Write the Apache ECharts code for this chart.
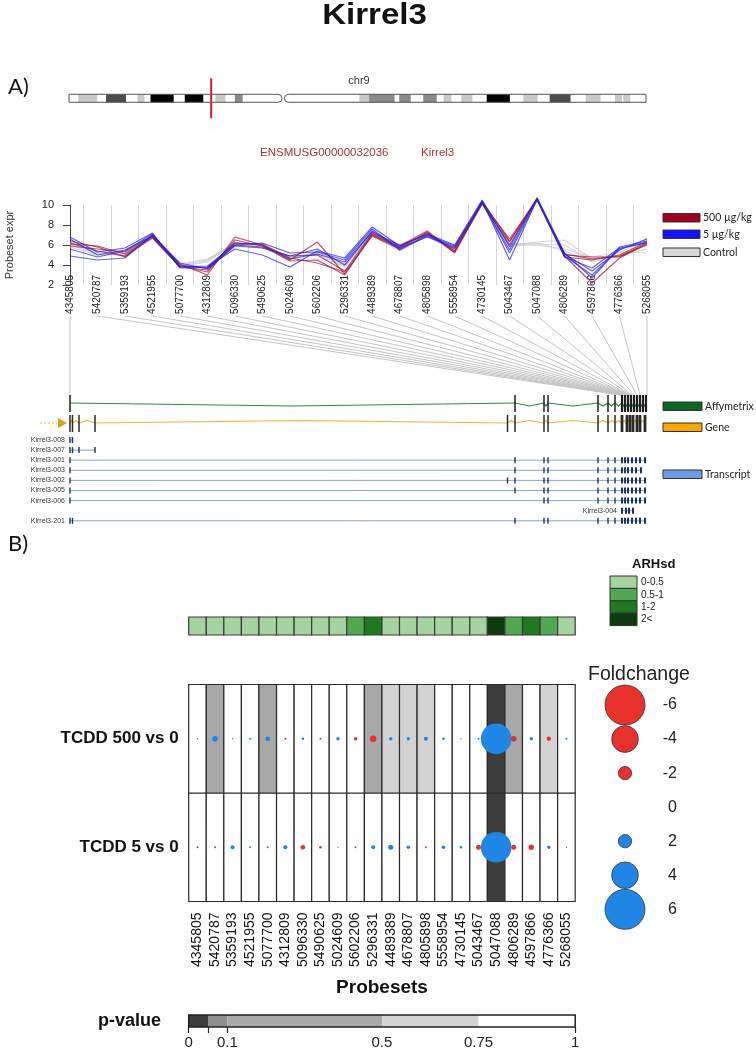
<!DOCTYPE html>
<html><head><meta charset="utf-8">
<script src="https://cdn.jsdelivr.net/npm/echarts@6/dist/echarts.min.js"></script>
<style>html,body{margin:0;padding:0;background:#fff}#c{width:756px;height:1049px}</style>
</head><body><div id="c"></div>
<script>
// ================= DATA =================
const probesets = ['4345805','5420787','5359193','4521955','5077700','4312809','5096330','5490625','5024609','5602206','5296331','4489389','4678807','4805898','5558954','4730145','5043467','5047088','4806289','4597866','4776366','5268055'];

// chromosome 9 ideogram (Mb)
const chrLengthMb = 124.6;
const chrCentromereMb = [46.0, 46.5];
const chrBandStartMb = [2.0, 8.0, 14.8, 17.6, 25.0, 31.6, 35.8, 62.7, 64.8, 71.3, 76.5, 80.9, 84.7, 90.2, 98.1, 103.8, 111.6, 117.9, 119.7];
const chrBandEndMb   = [6.1, 12.3, 16.3, 22.6, 29.0, 33.8, 37.5, 64.8, 70.3, 73.8, 79.4, 82.6, 87.1, 95.2, 101.2, 108.3, 114.8, 119.4, 121.2];
const chrBandStain   = [25, 75, 25, 100, 100, 25, 50, 25, 50, 50, 50, 25, 25, 100, 25, 75, 25, 25, 25];
const geneLocusMb = 30.7;

// probeset expression (log2)
const expr500A = [6.4, 5.8, 4.8, 7.0, 4.1, 3.0, 6.8, 6.0, 4.5, 6.3, 3.1, 7.0, 5.7, 7.3, 5.2, 10.2, 6.6, 10.6, 4.9, 2.2, 4.7, 6.1];
const expr500B = [6.1, 5.9, 5.1, 6.8, 3.9, 3.3, 6.5, 5.9, 4.4, 4.5, 3.0, 7.1, 5.8, 7.2, 5.4, 10.1, 6.3, 10.7, 5.0, 4.8, 4.8, 6.2];
const expr500C = [5.9, 5.6, 5.3, 6.9, 4.0, 3.7, 6.2, 6.1, 4.7, 4.2, 3.3, 6.9, 5.6, 7.0, 5.6, 10.3, 6.0, 10.6, 5.1, 4.6, 4.9, 6.0];
const expr500D = [6.2, 5.4, 4.9, 6.7, 3.8, 3.5, 6.0, 5.8, 4.9, 5.0, 3.4, 7.2, 5.9, 7.4, 5.3, 10.4, 6.4, 10.5, 4.8, 4.5, 5.0, 6.3];
const expr5A   = [6.8, 5.3, 5.7, 7.2, 3.7, 3.8, 5.6, 5.0, 3.8, 5.4, 4.7, 7.8, 5.9, 7.1, 6.0, 10.5, 5.8, 10.7, 5.2, 2.7, 5.8, 6.4];
const expr5B   = [4.9, 4.5, 4.7, 7.0, 3.8, 3.9, 6.0, 6.2, 5.2, 5.3, 4.5, 7.6, 5.5, 6.9, 5.8, 10.4, 4.5, 10.6, 4.9, 3.0, 5.6, 6.3];
const expr5C   = [6.6, 5.0, 5.5, 6.9, 4.2, 3.6, 5.9, 5.7, 4.9, 5.6, 4.0, 7.4, 5.7, 6.8, 5.7, 10.3, 5.2, 10.5, 5.1, 3.4, 5.5, 6.6];
const expr5D   = [5.6, 4.8, 5.4, 7.1, 3.9, 3.7, 6.2, 6.0, 4.6, 5.1, 4.3, 7.3, 6.0, 7.0, 5.9, 10.2, 5.5, 10.6, 4.8, 3.7, 5.7, 6.2];
const exprCtlA = [6.0, 5.1, 5.0, 6.8, 4.0, 4.5, 6.2, 5.9, 4.8, 5.2, 4.0, 7.1, 5.6, 7.0, 5.5, 10.1, 6.0, 6.3, 6.5, 4.6, 5.2, 6.7];
const exprCtlB = [6.3, 5.3, 5.2, 6.9, 3.9, 4.4, 6.0, 5.8, 4.9, 5.0, 3.8, 7.0, 5.7, 7.1, 5.4, 10.2, 6.0, 6.1, 6.0, 4.4, 5.0, 6.5];
const exprCtlC = [5.8, 5.0, 5.1, 6.7, 4.1, 4.6, 6.1, 6.0, 4.7, 5.1, 3.9, 7.2, 5.5, 6.9, 5.3, 10.0, 5.9, 6.0, 5.6, 4.8, 5.3, 5.2];
const exprCtlD = [6.1, 5.2, 4.9, 6.8, 3.8, 4.3, 6.3, 5.7, 4.6, 5.3, 4.1, 6.9, 5.4, 7.2, 5.6, 10.2, 6.1, 6.2, 5.4, 4.3, 4.9, 5.6];
const exprTicks = [2, 4, 6, 8, 10];

// gene model (kb from gene start)
const geneAxisMaxKb = 577;
const probesetGenomicKb = [0, 550, 551, 552, 553, 554, 555, 556, 556.5, 557, 557.5, 558, 558.5, 559, 559.5, 560, 561, 562, 564, 567, 570, 577];
const affyExonKb = [0, 445, 474, 478, 528, 538, 545, 552, 555, 558, 561, 564, 567, 570, 573, 576];
const geneExonKb = [0, 2.5, 9, 25, 437.5, 445, 474, 478, 528, 538, 545, 552, 557, 560, 563, 567, 570, 575];
const transcriptNames = ['Kirrel3-008','Kirrel3-007','Kirrel3-001','Kirrel3-003','Kirrel3-002','Kirrel3-005','Kirrel3-006','Kirrel3-004','Kirrel3-201'];
const tx008 = [0, 2.5];
const tx007 = [0, 2.5, 9, 25];
const tx001 = [0, 445, 474, 478, 528, 538, 545, 552, 555, 558, 562, 566, 570, 575];
const tx003 = [0, 445, 474, 478, 528, 538, 545, 552, 555, 558, 562, 566, 571];
const tx002 = [0, 437.5, 445, 474, 478, 528, 538, 545, 552, 555, 558, 562, 566, 570, 575];
const tx005 = [0, 445, 474, 478, 528, 538, 545, 552, 555, 558, 562, 566, 570, 575];
const tx006 = [0, 474, 478, 528, 538, 545, 552, 555, 558, 562, 566, 570, 575];
const tx004 = [552, 556, 559, 563];
const tx201 = [0, 2.5, 445, 474, 478, 528, 538, 545, 552, 555, 558, 562, 566, 570, 575];
const transcriptExonsKb = [tx008, tx007, tx001, tx003, tx002, tx005, tx006, tx004, tx201];

// ARHsd per probeset
const arhsd = [0.21, 0.28, 0.19, 0.33, 0.25, 0.31, 0.22, 0.27, 0.36, 0.74, 1.42, 0.30, 0.26, 0.34, 0.29, 0.24, 0.38, 2.65, 0.81, 1.28, 0.69, 0.32];
const arhsdBreaks = [0, 0.5, 1, 2];
const arhsdLabels = ['0-0.5', '0.5-1', '1-2', '2<'];
const arhsdColors = ['#a6d4a0', '#50a850', '#1f7a1f', '#0e3b0e'];

// comparisons (index 0 = bottom row)
const comparisonRows = ['TCDD 5 vs 0', 'TCDD 500 vs 0'];
const foldChange5   = [-0.3, -0.3, 0.6, 0.3, 0.3, 0.6, -0.7, -0.4, 0.2, 0.3, 0.6, 0.75, 0.55, -0.3, 0.55, 0.4, -0.75, 4.6, -0.75, -0.8, 0.5, 0.2];
const foldChange500 = [0.25, 0.85, 0.2, 0.3, 0.7, -0.3, 0.4, -0.3, 0.5, -0.55, -0.95, 0.5, 0.5, 0.6, 0.4, 0.2, 0.3, 4.6, -0.85, 0.5, -0.65, 0.3];
const pValue5   = [0.93, 0.88, 0.81, 0.90, 0.94, 0.85, 0.78, 0.92, 0.96, 0.89, 0.83, 0.77, 0.86, 0.91, 0.84, 0.97, 0.79, 0.015, 0.80, 0.82, 0.87, 0.95];
const pValue500 = [0.91, 0.27, 0.86, 0.82, 0.31, 0.88, 0.79, 0.93, 0.84, 0.81, 0.22, 0.61, 0.66, 0.58, 0.87, 0.95, 0.83, 0.012, 0.34, 0.89, 0.63, 0.92];
const foldLegendValues = [-6, -4, -2, 0, 2, 4, 6];
const pValueBreaks = [0, 0.05, 0.1, 0.5, 0.75, 1];
const pValueColors = ['#3d3d3d', '#8e8e8e', '#a8a8a8', '#d3d3d3', '#ffffff'];
const pTickValues = [0, 0.05, 0.1, 1];
const pLabelValues = [0, 0.1, 0.5, 0.75, 1];

// ================= STYLE / HELPERS =================
const FONT = '"Liberation Sans", Arial, Helvetica, sans-serif';
const CAL = 'Lato, "Open Sans", sans-serif';
const RED = '#e8302c', BLUE = '#1f86e6';
const FC_PX = 6.67;
const stainColor = s => ({25:'#c9c9c9', 50:'#8a8a8a', 75:'#4d4d4d', 100:'#000000'})[s] || '#fff';
function binColor(v, breaks, colors){ let k = 0; for (let i = 0; i < breaks.length; i++) if (v >= breaks[i]) k = i; return colors[Math.min(k, colors.length-1)]; }
const pairs = arr => { const o = []; for (let i = 0; i < arr.length - 1; i++) o.push([arr[i], arr[i+1]]); return o; };

const chart = echarts.init(document.getElementById('c'), null, {renderer:'canvas', width:756, height:1049});

const grids = [
  {left:69, width:577, top:94.3, height:8},        // 0 chromosome
  {left:70, width:577, top:205, height:80},        // 1 expression
  {left:70, width:577, top:380, height:150},       // 2 gene tracks
  {left:188.7, width:386.5, top:617, height:18},   // 3 ARHsd strip
  {left:188.7, width:386.5, top:684.5, height:217},// 4 bubble panel
  {left:600, width:82, top:705, height:204.3},     // 5 foldchange legend
  {left:188.7, width:386.5, top:1015, height:12}   // 6 p-value legend
].map(g => Object.assign({containLabel:false, outerBoundsMode:'none'}, g));

const tickStyle = {color:'#222', width:1.2};
const xAxes = [
  {gridIndex:0, type:'value', min:0, max:chrLengthMb, show:false},
  {gridIndex:1, type:'value', min:0, max:probesets.length-1, interval:1,
    axisLine:{show:false}, axisTick:{show:false}, splitLine:{show:false},
    minorTick:{show:false, splitNumber:2}, minorSplitLine:{show:true, lineStyle:{color:'#d6d6d6', width:1}},
    axisLabel:{rotate:90, margin:-10, fontSize:10, color:'#222', fontFamily:FONT, formatter: v => probesets[Math.round(v)] || ''}},
  {gridIndex:2, type:'value', min:0, max:geneAxisMaxKb, show:false},
  {gridIndex:3, type:'category', data:probesets, show:false},
  {gridIndex:4, type:'category', data:probesets, position:'bottom', axisLine:{show:false},
    axisTick:{alignWithLabel:true, length:6.5, lineStyle:tickStyle}, splitLine:{show:false},
    axisLabel:{rotate:90, interval:0, fontSize:14, color:'#111', margin:11, fontFamily:FONT}},
  {gridIndex:4, type:'category', data:probesets, position:'top', axisLine:{show:false},
    axisTick:{alignWithLabel:true, length:6, lineStyle:tickStyle}, splitLine:{show:false}, axisLabel:{show:false}},
  {gridIndex:5, type:'value', min:0, max:1, show:false},
  {gridIndex:6, type:'value', min:0, max:1, axisLine:{show:false}, splitLine:{show:false},
    axisTick:{show:true, customValues:pTickValues, length:6, lineStyle:tickStyle},
    axisLabel:{customValues:pLabelValues, fontSize:15, color:'#222', margin:8, fontFamily:FONT}}
];
const yAxes = [
  {gridIndex:0, type:'value', min:0, max:1, show:false},
  {gridIndex:1, type:'value', min:exprTicks[0], max:exprTicks[exprTicks.length-1], interval:exprTicks[1]-exprTicks[0],
    axisLine:{show:true, lineStyle:{color:'#444', width:1}}, axisTick:{show:true, length:7, lineStyle:{color:'#444'}},
    axisLabel:{fontSize:11, color:'#222', margin:16, fontFamily:FONT}, splitLine:{show:false},
    name:'Probeset expr', nameLocation:'middle', nameRotate:90, nameGap:55, nameTextStyle:{fontSize:11, color:'#333', fontFamily:FONT}},
  {gridIndex:2, type:'value', min:0, max:150, inverse:true, show:false},
  {gridIndex:3, type:'value', min:0, max:1, show:false},
  {gridIndex:4, type:'category', data:comparisonRows, position:'left', axisLine:{show:false},
    axisTick:{alignWithLabel:true, length:6, lineStyle:tickStyle}, splitLine:{show:false},
    axisLabel:{fontSize:17, fontWeight:'bold', color:'#111', margin:10, fontFamily:FONT}},
  {gridIndex:4, type:'category', data:comparisonRows, position:'right', axisLine:{show:false},
    axisTick:{alignWithLabel:true, length:6, lineStyle:tickStyle}, splitLine:{show:false}, axisLabel:{show:false}},
  {gridIndex:5, type:'value', min:-6, max:6, interval:2, inverse:true, position:'right',
    axisLine:{show:false}, axisTick:{show:false}, splitLine:{show:false},
    axisLabel:{inside:true, fontSize:16, color:'#222', margin:5, fontFamily:FONT}},
  {gridIndex:6, type:'value', min:0, max:1, show:false}
];

const series = [];
// ---- chromosome ----
const chrArms = [[0, chrCentromereMb[0]], [chrCentromereMb[1], chrLengthMb]];
function armRender(fill, stroke){
  return (params, api) => {
    const a = api.coord([api.value(0), 1]), b = api.coord([api.value(1), 0]);
    const r = params.dataIndex === 0 ? [0, 4, 4, 0] : [4, 0, 0, 4];
    return {type:'rect', shape:{x:a[0], y:a[1], width:b[0]-a[0], height:b[1]-a[1], r:r}, style:{fill:fill, stroke:stroke, lineWidth:1}};
  };
}
series.push({type:'custom', xAxisIndex:0, yAxisIndex:0, silent:true, z:1, data:chrArms, renderItem:armRender('#fff', null)});
series.push({type:'custom', xAxisIndex:0, yAxisIndex:0, silent:true, z:2,
  data: chrBandStartMb.map((s, i) => [s, chrBandEndMb[i], chrBandStain[i]]),
  renderItem: (params, api) => {
    const a = api.coord([api.value(0), 1]), b = api.coord([api.value(1), 0]);
    return {type:'rect', shape:{x:a[0], y:a[1], width:b[0]-a[0], height:b[1]-a[1]}, style:{fill:stainColor(api.value(2))}};
  }});
series.push({type:'custom', xAxisIndex:0, yAxisIndex:0, silent:true, z:3, data:chrArms, renderItem:armRender('none', '#555')});
series.push({type:'custom', xAxisIndex:0, yAxisIndex:0, silent:true, z:4, data:[[geneLocusMb, 0]],
  renderItem: (params, api) => {
    const a = api.coord([api.value(0), 3.0]), b = api.coord([api.value(0), -2.0]);
    return {type:'line', shape:{x1:a[0], y1:a[1], x2:b[0], y2:b[1]}, style:{stroke:'#d42020', lineWidth:2}};
  }});

// ---- expression lines ----
const groups = [
  {name:'Control', color:'#c8c8c8', z:3, arrs:[exprCtlA, exprCtlB, exprCtlC, exprCtlD]},
  {name:'500 µg/kg', color:'#a3102c', z:4, arrs:[expr500A, expr500B, expr500C, expr500D]},
  {name:'5 µg/kg', color:'#2323ee', z:5, arrs:[expr5A, expr5B, expr5C, expr5D]}
];
groups.forEach(g => g.arrs.forEach(arr => series.push({
  type:'line', name:g.name, xAxisIndex:1, yAxisIndex:1, silent:true, z:g.z, clip:false,
  symbol:'none', showSymbol:false, animation:false,
  lineStyle:{color:g.color, width:1.2, opacity:0.72},
  data: arr.map((v, i) => [i, v])
})));

// ---- gene tracks ----
const nP = probesets.length;
series.push({type:'custom', xAxisIndex:2, yAxisIndex:2, silent:true, z:1,
  data: probesetGenomicKb.map((g, i) => [i * geneAxisMaxKb / (nP - 1), g]),
  renderItem: (params, api) => {
    const a = api.coord([api.value(0), -64]), b = api.coord([api.value(1), 15]);
    return {type:'line', shape:{x1:a[0], y1:a[1], x2:b[0], y2:b[1]}, style:{stroke:'#c4c4c4', lineWidth:1}};
  }});
function intronRender(yLine, bump, color){
  return (params, api) => {
    const s = api.value(0), e = api.value(1);
    return {type:'polyline', shape:{points:[api.coord([s, yLine]), api.coord([(s+e)/2, yLine+bump]), api.coord([e, yLine])]},
      style:{stroke:color, lineWidth:1.2, fill:null}};
  };
}
function exonRender(y0, y1, color, clusterStart, wSmall, wBig){
  return (params, api) => {
    const x = api.value(0); const a = api.coord([x, y0]), b = api.coord([x, y1]);
    const w = x >= clusterStart ? wBig : wSmall;
    return {type:'rect', shape:{x:a[0]-w/2, y:a[1], width:w, height:b[1]-a[1]}, style:{fill:color}};
  };
}
series.push({type:'custom', xAxisIndex:2, yAxisIndex:2, silent:true, z:2, data:pairs(affyExonKb), renderItem:intronRender(23, 3, '#2e8b3a')});
series.push({type:'custom', xAxisIndex:2, yAxisIndex:2, silent:true, z:3, data:affyExonKb.map(x => [x, 0]), renderItem:exonRender(15, 32, '#1e1e1e', 552, 1.5, 2.2)});
series.push({type:'custom', xAxisIndex:2, yAxisIndex:2, silent:true, z:2, data:pairs(geneExonKb), renderItem:intronRender(43, -2.5, '#f5b233')});
series.push({type:'custom', xAxisIndex:2, yAxisIndex:2, silent:true, z:3, data:geneExonKb.map(x => [x, 0]), renderItem:exonRender(35, 52, '#2a2a2a', 552, 1.5, 2.8)});
// strand arrow at gene start
series.push({type:'custom', xAxisIndex:2, yAxisIndex:2, silent:true, z:3, data:[[geneExonKb[0], 43]],
  renderItem: (params, api) => {
    const p = api.coord([api.value(0), api.value(1)]);
    return {type:'group', children:[
      {type:'line', shape:{x1:p[0]-30, y1:p[1], x2:p[0]-13, y2:p[1]}, style:{stroke:'#f0b040', lineWidth:1, lineDash:[2,2]}},
      {type:'polygon', shape:{points:[[p[0]-12, p[1]-5], [p[0]-3, p[1]], [p[0]-12, p[1]+5]]}, style:{fill:'#d9a01a'}}
    ]};
  }});
// transcripts
series.push({type:'custom', xAxisIndex:2, yAxisIndex:2, silent:true, z:3,
  data: transcriptNames.map((n, i) => [i, 0]),
  renderItem: (params, api) => {
    const t = params.dataIndex, ex = transcriptExonsKb[t];
    const yv = 60 + t * 10.1;
    const first = api.coord([ex[0], yv]), last = api.coord([ex[ex.length-1], yv]);
    const ch = [{type:'line', shape:{x1:first[0], y1:first[1], x2:last[0], y2:last[1]}, style:{stroke:'#86a4de', lineWidth:1}}];
    ex.forEach(x => { const p = api.coord([x, yv]); const w = x >= 552 ? 2 : 1.4;
      ch.push({type:'rect', shape:{x:p[0]-w/2, y:p[1]-3, width:w, height:6}, style:{fill:'#1f3264'}}); });
    ch.push({type:'text', style:{text:transcriptNames[t], x:first[0]-5, y:first[1], align:'right', verticalAlign:'middle', textAlign:'right', textVerticalAlign:'middle', fontSize:7, fontFamily:FONT, fill:'#333'}});
    return {type:'group', children:ch};
  }});

// ---- ARHsd strip ----
series.push({type:'custom', xAxisIndex:3, yAxisIndex:3, silent:true, z:2,
  data: arhsd.map((v, i) => [i, v]),
  renderItem: (params, api) => {
    const c = api.coord([api.value(0), 1]), d = api.coord([api.value(0), 0]); const w = api.size([1, 0])[0];
    return {type:'rect', shape:{x:c[0]-w/2, y:c[1], width:w, height:d[1]-c[1]}, style:{fill:binColor(api.value(1), arhsdBreaks, arhsdColors), stroke:'#3a3a3a', lineWidth:1.2}};
  }});

// ---- bubble panel ----
const pValueByRow = [pValue5, pValue500];
const foldByRow = [foldChange5, foldChange500];
const cellData = [], fcData = [];
pValueByRow.forEach((arr, r) => arr.forEach((p, i) => cellData.push([i, r, p])));
foldByRow.forEach((arr, r) => arr.forEach((f, i) => fcData.push([i, r, f])));
series.push({type:'custom', xAxisIndex:4, yAxisIndex:4, silent:true, z:2, data:cellData,
  renderItem: (params, api) => {
    const c = api.coord([api.value(0), api.value(1)]); const s = api.size([1, 1]);
    return {type:'rect', shape:{x:c[0]-s[0]/2, y:c[1]-s[1]/2, width:s[0], height:s[1]}, style:{fill:binColor(api.value(2), pValueBreaks, pValueColors), stroke:'#2a2a2a', lineWidth:1.2}};
  }});
series.push({type:'scatter', xAxisIndex:4, yAxisIndex:4, silent:true, z:5, symbol:'circle', data:fcData,
  symbolSize: v => FC_PX * Math.abs(v[2]),
  itemStyle:{opacity:1, color: p => p.value[2] < 0 ? RED : BLUE}});

// ---- fold change legend ----
series.push({type:'scatter', xAxisIndex:6, yAxisIndex:6, silent:true, z:5, symbol:'circle',
  data: foldLegendValues.map(v => [0.305, v]),
  symbolSize: v => FC_PX * Math.abs(v[1]),
  itemStyle:{opacity:1, color: p => p.value[1] < 0 ? RED : BLUE, borderColor:'#3a3a3a', borderWidth:0.8}});

// ---- p-value legend ----
series.push({type:'custom', xAxisIndex:7, yAxisIndex:7, silent:true, z:2,
  data: pairs(pValueBreaks).map((b, i) => [b[0], b[1], i]),
  renderItem: (params, api) => {
    const a = api.coord([api.value(0), 1]), b = api.coord([api.value(1), 0]);
    return {type:'rect', shape:{x:a[0], y:a[1], width:b[0]-a[0], height:b[1]-a[1]}, style:{fill:pValueColors[api.value(2)]}};
  }});
series.push({type:'custom', xAxisIndex:7, yAxisIndex:7, silent:true, z:3,
  data: [[pValueBreaks[0], pValueBreaks[pValueBreaks.length-1]]],
  renderItem: (params, api) => {
    const a = api.coord([api.value(0), 1]), b = api.coord([api.value(1), 0]);
    return {type:'rect', shape:{x:a[0], y:a[1], width:b[0]-a[0], height:b[1]-a[1]}, style:{fill:'none', stroke:'#222', lineWidth:1.5}};
  }});

// ---- graphic (text and legends) ----
const txt = (x, y, text, font, extra, el) => Object.assign({type:'text', x:x, y:y, silent:true,
  style:Object.assign({text:text, font:font, fill:'#222', align:'left', verticalAlign:'middle', textAlign:'left', textVerticalAlign:'middle'}, extra || {})}, el || {});
const box = (x, y, w, h, fill) => ({type:'rect', silent:true, shape:{x:x, y:y, width:w, height:h}, style:{fill:fill, stroke:'#333', lineWidth:1}});
const graphic = [
  txt(374.5, 16, 'Kirrel3', 'bold 29px ' + FONT, {align:'center', textAlign:'center', fill:'#111'}, {scaleX:1.14}),
  txt(8, 87, 'A)', '22px ' + CAL, {fill:'#111'}),
  txt(8, 544, 'B)', '22px ' + CAL, {fill:'#111'}),
  txt(359, 81, 'chr9', '11px ' + FONT, {align:'center', textAlign:'center', fill:'#333'}),
  txt(260, 153, 'ENSMUSG00000032036', '11.5px ' + FONT, {fill:'#a83232'}),
  txt(421, 153, 'Kirrel3', '11.5px ' + FONT, {fill:'#a83232'}),
  txt(632, 564, 'ARHsd', 'bold 13px ' + FONT, {fill:'#111'}),
  txt(588, 674.5, 'Foldchange', '19.5px ' + FONT, {fill:'#222'}),
  txt(382, 988, 'Probesets', 'bold 19px ' + FONT, {align:'center', textAlign:'center', fill:'#111'}),
  txt(98, 1021, 'p-value', 'bold 18px ' + FONT, {fill:'#111'})
];
const lineLegend = [['500 µg/kg', '#a3001e', 213.5], ['5 µg/kg', '#1414ff', 230], ['Control', '#d6d6d6', 248]];
lineLegend.forEach(l => { graphic.push(box(663, l[2], 37, 8.5, l[1])); graphic.push(txt(703, l[2] + 4.5, l[0], '10.5px ' + CAL)); });
const trackLegend = [['Affymetrix', '#0b6623', 402], ['Gene', '#f6a800', 423], ['Transcript', '#6d9be8', 470]];
trackLegend.forEach(l => { graphic.push(box(663, l[2], 39, 8.5, l[1])); graphic.push(txt(705, l[2] + 4.5, l[0], '10.5px ' + CAL)); });
arhsdLabels.forEach((lab, i) => {
  const y = 576 + i * 12.4;
  graphic.push(box(610, y, 27, 12.4, arhsdColors[i]));
  graphic.push(txt(641, y + 6.4, lab, '10px ' + FONT, {fill:'#222'}));
});

chart.setOption({
  animation:false,
  backgroundColor:'#ffffff',
  textStyle:{fontFamily:FONT},
  grid:grids, xAxis:xAxes, yAxis:yAxes, series:series, graphic:graphic
});
</script></body></html>
